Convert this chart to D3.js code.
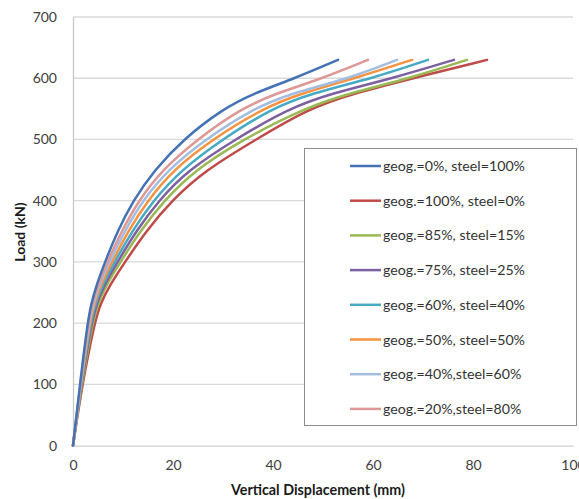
<!DOCTYPE html>
<html><head><meta charset="utf-8">
<script src="https://cdn.jsdelivr.net/npm/d3@7"></script>
<style>
html,body{margin:0;padding:0;background:#fff;}
svg{display:block;font-family:Lato,"Open Sans",sans-serif;}
</style></head>
<body>
<svg id="c" width="579" height="499"></svg>
<script>
// Data: load levels (kN) and displacement (mm) per series
const seriesNames = [
  "geog.=0%, steel=100%",
  "geog.=100%, steel=0%",
  "geog.=85%, steel=15%",
  "geog.=75%, steel=25%",
  "geog.=60%, steel=40%",
  "geog.=50%, steel=50%",
  "geog.=40%,steel=60%",
  "geog.=20%,steel=80%"
];
const seriesColors = ["#4472B4","#BE4B48","#98B954","#7D60A0","#46AAC5","#F69240","#A3BDE0","#DD9896"];
const loads =     [0, 100, 200, 230, 260, 300, 350, 400, 450, 500, 550, 575, 600, 630];
const disp_g0 =   [0, 1.4, 2.9, 3.6, 4.6, 6.4, 8.9, 12.0, 16.3, 22.0, 30.0, 36.0, 44.4, 53.0];
const disp_g100 = [0, 1.85, 4.3, 5.4, 7.2, 10.4, 14.6, 19.7, 26.5, 36.6, 47.0, 56.0, 68.0, 82.8];
const disp_g85 =  [0, 1.75, 3.9, 4.9, 6.5, 9.5, 13.4, 18.2, 24.4, 34.0, 46.0, 55.0, 67.4, 78.8];
const disp_g75 =  [0, 1.65, 3.7, 4.65, 6.1, 8.9, 12.6, 17.1, 23.0, 32.4, 43.0, 51.5, 64.0, 76.2];
const disp_g60 =  [0, 1.6, 3.5, 4.4, 5.75, 8.3, 11.8, 16.0, 21.6, 29.8, 39.6, 47.5, 60.0, 71.0];
const disp_g50 =  [0, 1.55, 3.35, 4.2, 5.45, 7.8, 11.0, 14.9, 20.0, 27.8, 37.8, 45.5, 56.4, 67.8];
const disp_g40 =  [0, 1.5, 3.2, 4.0, 5.15, 7.3, 10.3, 13.9, 18.9, 26.4, 36.0, 43.5, 55.4, 64.8];
const disp_g20 =  [0, 1.45, 3.05, 3.8, 4.9, 6.9, 9.7, 13.1, 17.8, 24.8, 33.5, 40.5, 50.0, 59.0];
const seriesData = [disp_g0, disp_g100, disp_g85, disp_g75, disp_g60, disp_g50, disp_g40, disp_g20];
const xTicks = [0, 20, 40, 60, 80, 100];
const yTicks = [0, 100, 200, 300, 400, 500, 600, 700];

const svg = d3.select("#c");
const x = d3.scaleLinear().domain([0, 100]).range([73, 573]);
const y = d3.scaleLinear().domain([0, 700]).range([445.6, 17]);
const FONT = "Lato,'Open Sans',sans-serif";

// gridlines
svg.append("g").selectAll("line").data(yTicks.filter(d => d > 0)).join("line")
  .attr("x1", x(0)).attr("x2", x(100))
  .attr("y1", d => y(d)).attr("y2", d => y(d))
  .attr("stroke", "#d9d9d9").attr("stroke-width", 1.3);

// axes
const yAxis = svg.append("g").attr("transform", `translate(${x(0)},0)`)
  .call(d3.axisLeft(y).tickValues(yTicks).tickSize(0).tickPadding(16));
yAxis.select(".domain").attr("stroke", "#c8c8c8").attr("stroke-width", 1.3);
yAxis.selectAll("text").attr("font-size", 14).attr("fill", "#404040").attr("font-family", FONT);

const xAxis = svg.append("g").attr("transform", `translate(0,${y(0)})`)
  .call(d3.axisBottom(x).tickValues(xTicks).tickSize(0).tickPadding(14));
xAxis.select(".domain").attr("stroke", "#d0d0d0").attr("stroke-width", 1.3);
xAxis.selectAll("text").attr("font-size", 14).attr("fill", "#404040").attr("font-family", FONT);

// axis titles
svg.append("text").attr("x", 318).attr("y", 495).attr("text-anchor", "middle")
  .attr("font-size", 14.3).attr("font-weight", "bold").attr("fill", "#1a1a1a")
  .text("Vertical Displacement (mm)");
svg.append("text").attr("transform", "translate(25,232) rotate(-90)").attr("text-anchor", "middle")
  .attr("font-size", 14).attr("font-weight", "bold").attr("fill", "#1a1a1a")
  .text("Load (kN)");

// series lines
const line = d3.line().x(d => x(d[0])).y(d => y(d[1])).curve(d3.curveBasis);
const order = [1, 2, 3, 4, 5, 6, 7, 0];
order.forEach(i => {
  const pts = seriesData[i].map((v, j) => [v, loads[j]]);
  svg.append("path").datum(pts).attr("d", line)
    .attr("fill", "none").attr("stroke", seriesColors[i]).attr("stroke-width", 2.5)
    .attr("stroke-linejoin", "round").attr("stroke-linecap", "round");
});

// legend
const lg = svg.append("g");
lg.append("rect").attr("x", 304.5).attr("y", 148.5).attr("width", 272).attr("height", 277)
  .attr("fill", "#fff").attr("stroke", "#8c8c8c").attr("stroke-width", 1);
seriesNames.forEach((name, i) => {
  const yy = 166 + i * 34.7;
  lg.append("line").attr("x1", 350).attr("x2", 381).attr("y1", yy).attr("y2", yy)
    .attr("stroke", seriesColors[i]).attr("stroke-width", 2.5);
  lg.append("text").attr("x", 383).attr("y", yy + 5).attr("font-size", 14.2)
    .attr("fill", "#333").text(name);
});
</script>
</body></html>
